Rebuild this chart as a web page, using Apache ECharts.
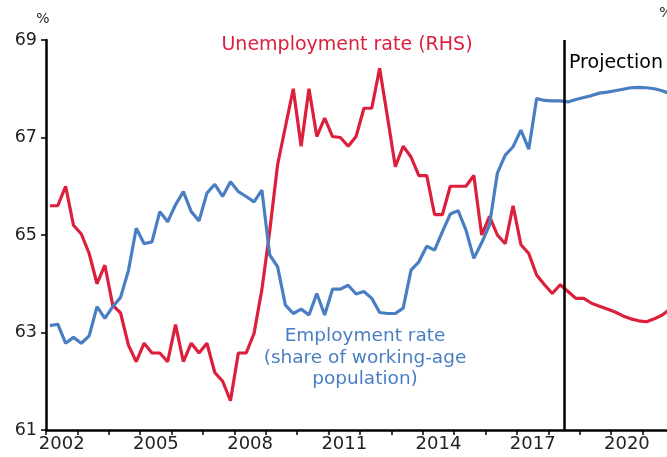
<!DOCTYPE html>
<html>
<head>
<meta charset="utf-8">
<script src="https://cdn.jsdelivr.net/npm/echarts@6/dist/echarts.min.js"></script>
<style>
html,body{margin:0;padding:0;background:#fff;}
#chart{width:667px;height:457px;}
</style>
</head>
<body>
<div id="chart"></div>
<script>
// Quarterly data, 2002Q1 - 2021Q4 (from 2018Q3 onward: projection)
const startYear = 2002;
const endYear = 2021;
const projectionStart = 2018.5;

// Employment rate, % of working-age population (left axis)
const employmentRate = [
  63.14, 63.17, 62.78, 62.90, 62.78, 62.93, 63.53, 63.29, 63.53, 63.72,
  64.27, 65.14, 64.82, 64.86, 65.48, 65.27, 65.62, 65.89, 65.48, 65.29,
  65.86, 66.04, 65.79, 66.09, 65.89, 65.79, 65.68, 65.92, 64.59, 64.35,
  63.56, 63.39, 63.48, 63.36, 63.80, 63.36, 63.89, 63.89, 63.97, 63.79,
  63.84, 63.70, 63.41, 63.39, 63.39, 63.50, 64.28, 64.45, 64.77, 64.69,
  65.07, 65.43, 65.50, 65.10, 64.52, 64.84, 65.21, 66.27, 66.64, 66.81,
  67.15, 66.76, 67.80, 67.76, 67.75, 67.75,
  67.73, 67.78, 67.82, 67.86, 67.91, 67.93, 67.96, 67.99, 68.02, 68.03,
  68.02, 68.00, 67.96, 67.90
];

// Unemployment rate, % (right axis)
const unemploymentRate = [
  5.30, 5.30, 5.50, 5.10, 5.01, 4.81, 4.50, 4.69, 4.28, 4.20,
  3.87, 3.70, 3.89, 3.79, 3.79, 3.70, 4.08, 3.70, 3.89, 3.79,
  3.89, 3.59, 3.50, 3.30, 3.79, 3.79, 3.99, 4.44, 5.04, 5.72,
  6.11, 6.50, 5.91, 6.50, 6.01, 6.20, 6.01, 6.00, 5.91, 6.01,
  6.30, 6.30, 6.71, 6.21, 5.70, 5.91, 5.80, 5.61, 5.61, 5.21,
  5.21, 5.50, 5.50, 5.50, 5.61, 5.00, 5.19, 5.00, 4.91, 5.30,
  4.90, 4.81, 4.59, 4.49, 4.40, 4.49,
  4.42, 4.35, 4.35, 4.30, 4.27, 4.24, 4.21, 4.17, 4.14, 4.12,
  4.11, 4.14, 4.18, 4.24
];

const yearLabels = ['2002', '2005', '2008', '2011', '2014', '2017', '2020'];
const leftAxis = { min: 61, max: 69, interval: 2 };
const rightAxis = { min: 3, max: 7, interval: 1 };

// quarter labels like "2002Q1"
const quarters = [];
for (let y = startYear; y <= endYear; y++) {
  for (let q = 1; q <= 4; q++) quarters.push(y + 'Q' + q);
}
function quarterPos(label) {
  const parts = label.split('Q');
  return Number(parts[0]) + (Number(parts[1]) - 0.5) / 4;
}
const xs = quarters.map(quarterPos);
const empData = employmentRate.map((v, i) => [xs[i], v]);
const unempData = unemploymentRate.map((v, i) => [xs[i], v]);

const tickYears = [];
for (let y = startYear; y <= endYear + 1; y++) tickYears.push(y);
const labelPositions = yearLabels.map(s => Number(s) + 0.5);

const FONT = 'DejaVu Sans';
const RED = '#dc1f3c';
const BLUE = '#4a7ec3';
const TXT = '#222';

const chart = echarts.init(document.getElementById('chart'), null, { renderer: 'canvas' });
chart.setOption({
  backgroundColor: '#fff',
  animation: false,
  grid: { left: 46, right: -7, top: 40, bottom: 27, outerBoundsMode: 'none', containLabel: false },
  xAxis: {
    type: 'value',
    min: startYear,
    max: endYear + 1,
    interval: 1,
    axisLine: { show: true, lineStyle: { color: '#000', width: 2.5 } },
    axisTick: { show: true, length: 5, customValues: tickYears, lineStyle: { color: '#000', width: 1.5 } },
    axisLabel: {
      show: true,
      customValues: labelPositions,
      formatter: v => String(Math.floor(v)),
      fontFamily: FONT, fontSize: 18, color: TXT, margin: 5
    },
    splitLine: { show: false }
  },
  yAxis: [
    {
      type: 'value',
      position: 'left',
      min: leftAxis.min, max: leftAxis.max, interval: leftAxis.interval,
      name: '%',
      nameLocation: 'end',
      nameGap: 14,
      nameTextStyle: { fontFamily: FONT, fontSize: 14, color: TXT, padding: [0, 0, 0, -6] },
      axisLine: { show: true, lineStyle: { color: '#000', width: 2.5 } },
      axisTick: { show: true, length: 5, lineStyle: { color: '#000', width: 1.5 } },
      axisLabel: { fontFamily: FONT, fontSize: 17.5, color: TXT, margin: 9 },
      splitLine: { show: false }
    },
    {
      type: 'value',
      position: 'right',
      min: rightAxis.min, max: rightAxis.max, interval: rightAxis.interval,
      name: '%',
      nameLocation: 'end',
      nameGap: 20,
      nameTextStyle: { fontFamily: FONT, fontSize: 14, color: TXT, padding: [0, 16, 0, 0] },
      axisLine: { show: true, lineStyle: { color: '#000', width: 2.5 } },
      axisTick: { show: true, length: 5, lineStyle: { color: '#000', width: 1.5 } },
      axisLabel: { fontFamily: FONT, fontSize: 17.5, color: TXT, margin: 9 },
      splitLine: { show: false }
    }
  ],
  series: [
    {
      name: 'Employment rate',
      type: 'line',
      yAxisIndex: 0,
      data: empData,
      symbol: 'none',
      lineStyle: { color: BLUE, width: 3.2 },
      itemStyle: { color: BLUE },
      z: 3,
      markLine: {
        silent: true,
        symbol: 'none',
        label: { show: false },
        lineStyle: { color: '#000', width: 2.5, type: 'solid' },
        data: [{ xAxis: projectionStart }]
      }
    },
    {
      name: 'Unemployment rate',
      type: 'line',
      yAxisIndex: 1,
      data: unempData,
      symbol: 'none',
      lineStyle: { color: RED, width: 3.2 },
      itemStyle: { color: RED },
      z: 2
    }
  ],
  graphic: [
    {
      type: 'text', x: 347, y: 45, z: 10,
      style: { text: 'Unemployment rate (RHS)', fill: RED, font: '19px "DejaVu Sans"',
        align: 'center', verticalAlign: 'middle', textAlign: 'center', textVerticalAlign: 'middle' }
    },
    {
      type: 'text', x: 569, y: 63, z: 10,
      style: { text: 'Projection', fill: '#000', font: '19px "DejaVu Sans"',
        align: 'left', verticalAlign: 'middle', textAlign: 'left', textVerticalAlign: 'middle' }
    },
    {
      type: 'text', x: 365, y: 358, z: 10,
      style: { text: 'Employment rate\n(share of working-age\npopulation)', fill: BLUE,
        font: '18.5px "DejaVu Sans"', lineHeight: 21.5,
        align: 'center', verticalAlign: 'middle', textAlign: 'center', textVerticalAlign: 'middle' }
    }
  ]
});
</script>
</body>
</html>
